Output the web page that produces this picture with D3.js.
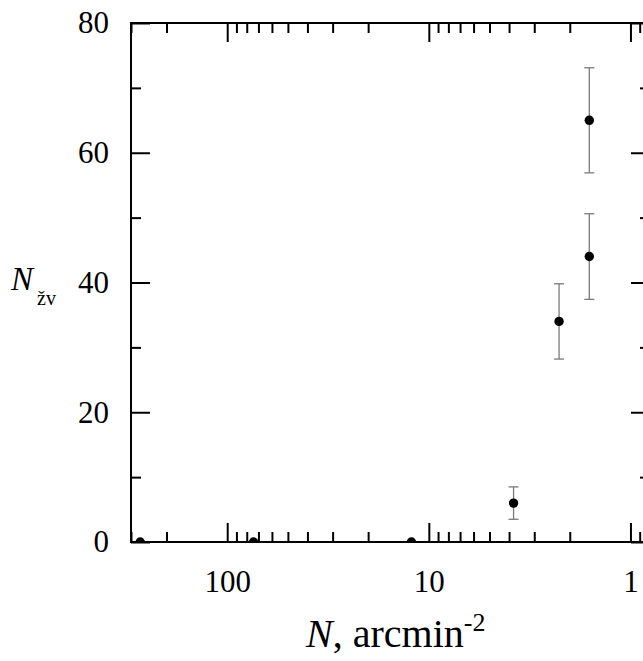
<!DOCTYPE html>
<html>
<head>
<meta charset="utf-8">
<script src="https://cdn.jsdelivr.net/npm/d3@7"></script>
<style>
  body { margin: 0; background: #fff; }
</style>
</head>
<body>
<div id="chart"></div>
<script>
// values
const densities = [270, 74, 12.2, 3.8, 2.26, 1.6, 1.6];   // N, arcmin^-2
const counts = [0, 0, 0, 6, 34, 44, 65];                  // N_zv
const errors = [0, 0, 0, 2.5, 5.8, 6.6, 8.1];

const xMajor = [100, 10, 1];
const xMinor = [300, 200, 90, 80, 70, 60, 50, 40, 30, 20, 9, 8, 7, 6, 5, 4, 3, 2, 0.9];
const yMajor = [0, 20, 40, 60, 80];
const yMinor = [10, 30, 50, 70];

const W = 643, H = 661;
const FONT = "Liberation Serif";
const margin = { top: 23, right: -7, bottom: 119, left: 131 };
const pLeft = margin.left, pRight = W - margin.right, pTop = margin.top, pBottom = H - margin.bottom;

const x = d3.scaleLog().domain([300, 0.8]).range([pLeft, pRight]);
const y = d3.scaleLinear().domain([0, 80]).range([pBottom, pTop]);

const svg = d3.select("#chart").append("svg")
  .attr("width", W).attr("height", H)
  .attr("font-family", FONT);

svg.append("defs").append("clipPath").attr("id", "plot-clip")
  .append("rect").attr("x", pLeft).attr("y", pTop)
  .attr("width", pRight - pLeft).attr("height", pBottom - pTop);

const fs = 31;
const major = 19, minor = 10;

function styleAxis(g) {
  g.attr("font-family", FONT).attr("font-size", fs);
  g.select(".domain").remove();
  g.selectAll("line").attr("stroke", "#000").attr("stroke-width", 2);
  g.selectAll("text").attr("fill", "#000");
}

// bottom
svg.append("g").attr("transform", `translate(0,${pBottom})`)
  .call(d3.axisBottom(x).tickValues(xMajor).tickSize(-major).tickPadding(28).tickFormat(d3.format("d")))
  .call(styleAxis);
svg.append("g").attr("transform", `translate(0,${pBottom})`)
  .call(d3.axisBottom(x).tickValues(xMinor).tickSize(-minor).tickFormat(""))
  .call(styleAxis);
// top
svg.append("g").attr("transform", `translate(0,${pTop})`)
  .call(d3.axisTop(x).tickValues(xMajor).tickSize(-major).tickFormat(""))
  .call(styleAxis);
svg.append("g").attr("transform", `translate(0,${pTop})`)
  .call(d3.axisTop(x).tickValues(xMinor).tickSize(-minor).tickFormat(""))
  .call(styleAxis);
// left
svg.append("g").attr("transform", `translate(${pLeft},0)`)
  .call(d3.axisLeft(y).tickValues(yMajor).tickSize(-major).tickPadding(22))
  .call(styleAxis);
svg.append("g").attr("transform", `translate(${pLeft},0)`)
  .call(d3.axisLeft(y).tickValues(yMinor).tickSize(-minor).tickFormat(""))
  .call(styleAxis);
// right
svg.append("g").attr("transform", `translate(${pRight},0)`)
  .call(d3.axisRight(y).tickValues(yMajor).tickSize(-major).tickFormat(""))
  .call(styleAxis);
svg.append("g").attr("transform", `translate(${pRight},0)`)
  .call(d3.axisRight(y).tickValues(yMinor).tickSize(-minor).tickFormat(""))
  .call(styleAxis);

// frame
svg.append("rect")
  .attr("x", pLeft).attr("y", pTop)
  .attr("width", pRight - pLeft).attr("height", pBottom - pTop)
  .attr("fill", "none").attr("stroke", "#000").attr("stroke-width", 2);

const data = densities.map((d, i) => ({ n: d, c: counts[i], e: errors[i] }));
const plot = svg.append("g").attr("clip-path", "url(#plot-clip)");

// error bars
const eb = plot.selectAll("g.err").data(data.filter(d => d.e > 0)).join("g").attr("class", "err")
  .attr("stroke", "#7a7a7a").attr("stroke-width", 1.3);
eb.append("line")
  .attr("x1", d => x(d.n)).attr("x2", d => x(d.n))
  .attr("y1", d => y(d.c - d.e)).attr("y2", d => y(d.c + d.e));
eb.append("line")
  .attr("x1", d => x(d.n) - 5).attr("x2", d => x(d.n) + 5)
  .attr("y1", d => y(d.c + d.e)).attr("y2", d => y(d.c + d.e));
eb.append("line")
  .attr("x1", d => x(d.n) - 5).attr("x2", d => x(d.n) + 5)
  .attr("y1", d => y(d.c - d.e)).attr("y2", d => y(d.c - d.e));

plot.selectAll("circle").data(data).join("circle")
  .attr("cx", d => x(d.n)).attr("cy", d => y(d.c))
  .attr("r", 4.7).attr("fill", "#000");

// axis titles
const xt = svg.append("text").attr("x", 306).attr("y", 647)
  .attr("font-family", FONT).attr("font-size", 40).attr("fill", "#000");
xt.append("tspan").attr("font-style", "italic").text("N");
xt.append("tspan").text(", arcmin");
xt.append("tspan").attr("font-size", 26).attr("dy", -16).text("-2");

const yt = svg.append("text").attr("x", 11).attr("y", 290)
  .attr("font-family", FONT).attr("font-size", 33).attr("fill", "#000");
yt.append("tspan").attr("font-style", "italic").text("N");
yt.append("tspan").attr("font-size", 20).attr("dy", 15).attr("dx", 4).text("žv");
</script>
</body>
</html>
